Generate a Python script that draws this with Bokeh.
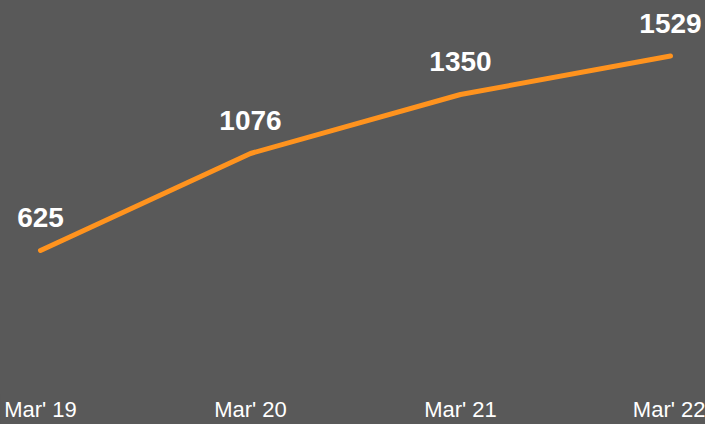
from bokeh.plotting import figure
from bokeh.models import ColumnDataSource, FixedTicker, Range1d
from bokeh.core.properties import value
from bokeh.embed import file_html
from bokeh.resources import INLINE

# Data
categories = ["Mar' 19", "Mar' 20", "Mar' 21", "Mar' 22"]
values = [625, 1076, 1350, 1529]

BG = "#595959"
ORANGE = "#FF931E"

xs = list(range(len(categories)))
src = ColumnDataSource(dict(x=xs, y=values, label=[str(v) for v in values]))

p = figure(width=705, height=424, output_backend="svg", toolbar_location=None,
           x_range=Range1d(-40 / 210, 3 + 35 / 210),
           y_range=Range1d(-35, 1787),
           min_border_left=0, min_border_right=0, min_border_top=0, min_border_bottom=0)
p.styles = {"background-color": BG}
p.background_fill_color = BG
p.border_fill_color = BG
p.outline_line_color = BG
p.outline_line_width = 3
p.grid.visible = False
p.yaxis.visible = False

ax = p.xaxis[0]
ax.ticker = FixedTicker(ticks=xs)
ax.major_label_overrides = {i: c for i, c in enumerate(categories)}
ax.axis_line_color = None
ax.major_tick_line_color = None
ax.minor_tick_line_color = None
ax.major_tick_out = 0
ax.major_tick_in = 0
ax.major_label_standoff = 4
ax.major_label_text_font = "Liberation Sans"
ax.major_label_text_font_size = "22px"
ax.major_label_text_color = "#FFFFFF"

p.line("x", "y", source=src, line_color=ORANGE, line_width=5, line_cap="round", line_join="round")
p.text("x", "y", text="label", source=src, text_align="center", text_baseline="alphabetic",
       y_offset=-33, text_font=value("Liberation Sans"), text_font_style="bold",
       text_font_size="28px", text_color="#FFFFFF")

html = file_html(p, INLINE)
html = html.replace("<body>", '<body style="margin:0;background:%s;">' % BG, 1)
open("out.html", "w").write(html)
